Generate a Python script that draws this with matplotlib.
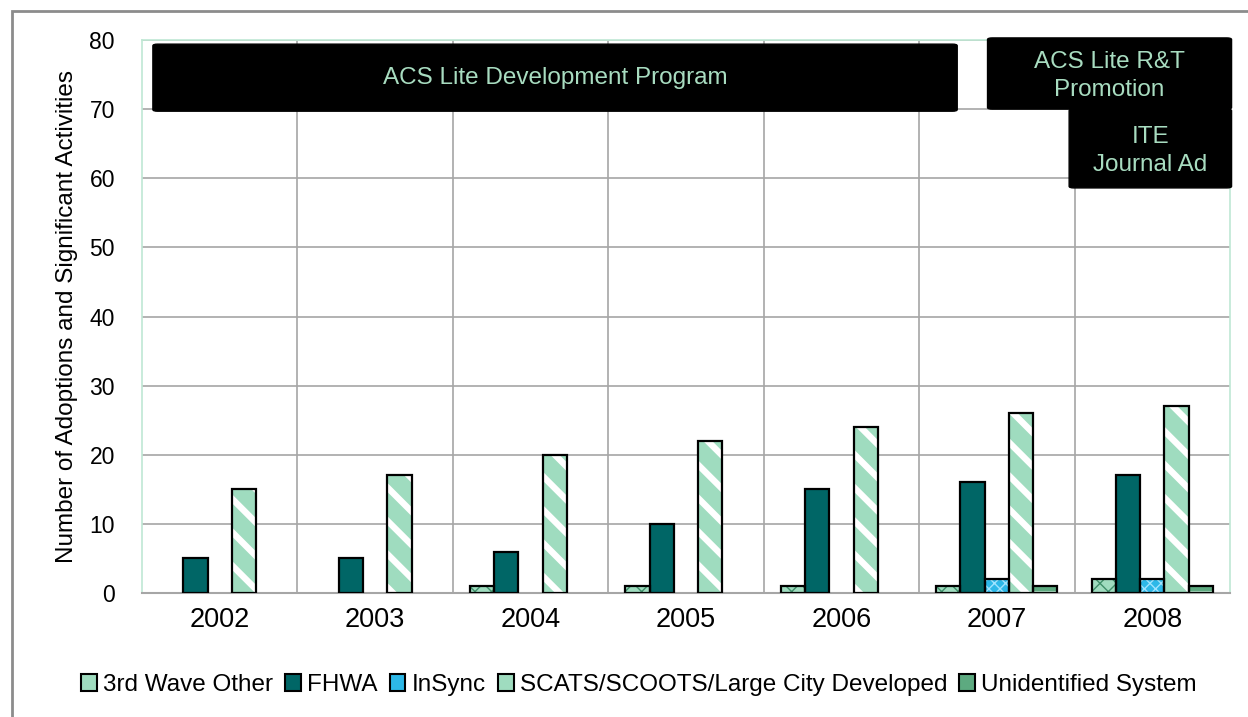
import matplotlib
matplotlib.use("Agg")
import matplotlib.pyplot as plt
import numpy as np
from matplotlib.patches import Rectangle, FancyBboxPatch, Patch

plt.rcParams['font.family'] = ['Liberation Sans', 'DejaVu Sans']

years = ['2002', '2003', '2004', '2005', '2006', '2007', '2008']
series_names = ['3rd Wave Other', 'FHWA', 'InSync', 'SCATS/SCOOTS/Large City Developed', 'Unidentified System']
third_wave = [0, 0, 1, 1, 1, 1, 2]
fhwa = [5, 5, 6, 10, 15, 16, 17]
insync = [0, 0, 0, 0, 0, 2, 2]
scats = [15, 17, 20, 22, 24, 26, 27]
unidentified = [0, 0, 0, 0, 0, 1, 1]
values = [third_wave, fhwa, insync, scats, unidentified]

face = ['#9fdcbf', '#006666', '#2db8e8', '#9fdcbf', '#5daa80']
hatches = ['xx', None, 'xxx', '\\', '---']
hatch_col = ['#3f8f6a', None, '#9fe4ff', 'white', '#a8dcc0']
hatch_lw = [1.0, 1.0, 1.0, 4.6, 1.0]

fig = plt.figure(figsize=(12.48, 7.17), dpi=100)
ax = fig.add_axes([142/1248, 1-593/717, (1230-142)/1248, (593-40)/717])

x = np.arange(len(years))
bw = 0.156
for i, (vals, fc, h, hc, hl) in enumerate(zip(values, face, hatches, hatch_col, hatch_lw)):
    v = np.array(vals, dtype=float)
    m = v > 0
    pos = (x + (i - 2) * bw)[m]
    v = v[m]
    plt.rcParams['hatch.linewidth'] = hl
    if h:
        ax.bar(pos, v, bw, color=fc, edgecolor=hc, hatch=h, linewidth=0, zorder=3)
    else:
        ax.bar(pos, v, bw, color=fc, linewidth=0, zorder=3)
    ax.bar(pos, v, bw, fill=False, edgecolor='black', linewidth=1.6, zorder=4)

ax.set_xlim(-0.5, len(years) - 0.5)
ax.set_ylim(0, 80)
ax.set_yticks(range(0, 81, 10))
ax.set_xticks(x)
ax.set_xticklabels(years, fontsize=19.5)
ax.tick_params(axis='y', labelsize=16.5, length=0, pad=19.5)
ax.tick_params(axis='x', length=0, pad=10)
ax.set_axisbelow(True)
ax.yaxis.grid(True, color='#a6a6a6', linewidth=1.2)
for b in np.arange(0.5, len(years) - 0.5, 1):
    ax.axvline(b, color='#a6a6a6', linewidth=1.2, zorder=1)
for s in ax.spines.values():
    s.set_color('#bfe8d4')
    s.set_linewidth(1.2)
ax.spines['bottom'].set_color('#a6a6a6')
ax.spines['bottom'].set_linewidth(1.5)

ax.set_ylabel('Number of Adoptions and Significant Activities', fontsize=17.5,
              fontweight='medium', labelpad=8)

txtc = '#a8dcc0'
boxes = [
    (-0.43, 69.7, 5.175, 9.7, 'ACS Lite Development Program', 0.0),
    (4.94, 70.0, 1.57, 10.3, 'ACS Lite R&T\nPromotion', -0.3),
    (5.465, 58.6, 1.045, 11.4, 'ITE\nJournal Ad', -0.3),
]
for (bx, by, bwid, bh, label, off) in boxes:
    p = FancyBboxPatch((bx, by), bwid, bh, boxstyle='round,pad=0,rounding_size=0.03',
                       facecolor='black', edgecolor='black', zorder=6, clip_on=False,
                       mutation_aspect=8)
    ax.add_patch(p)
    ax.text(bx + bwid / 2, by + bh / 2 + off, label, color=txtc, ha='center', va='center',
            fontsize=17.5, zorder=7, linespacing=1.35, clip_on=False)

handles = []
for fc in face:
    handles.append(Patch(facecolor=fc, edgecolor='black', linewidth=1.5))
leg = fig.legend(handles, series_names, loc='center', bbox_to_anchor=(0.512, 1-685/717),
                 ncol=5, frameon=False, fontsize=17.5, handlelength=0.65, handleheight=0.65,
                 handletextpad=0.25, columnspacing=0.5)

fig.patches.append(Rectangle((12/1248, -0.01), 1.1, 1 - 11/717 + 0.01, transform=fig.transFigure,
                             fill=False, edgecolor='#8c8c8c', linewidth=2, zorder=0))

fig.savefig('out.png', dpi=100)
